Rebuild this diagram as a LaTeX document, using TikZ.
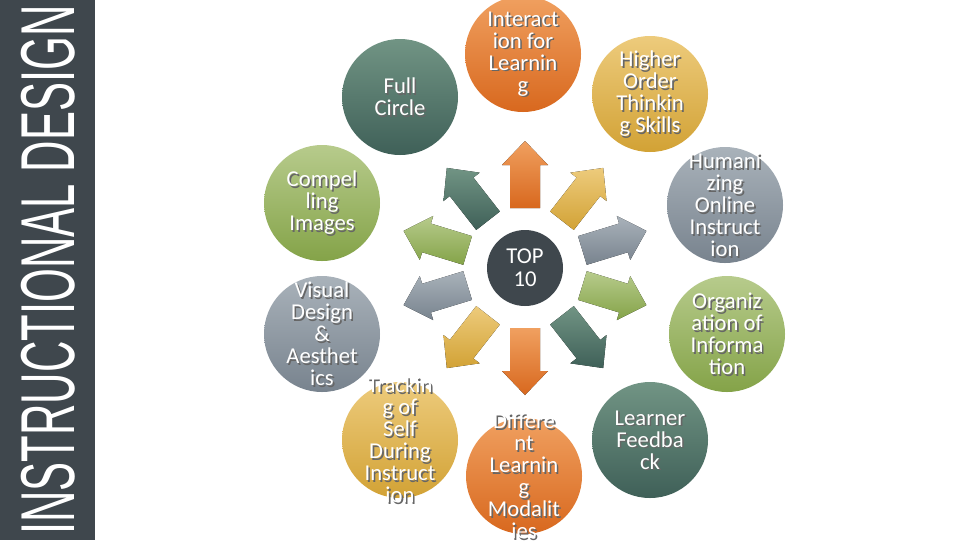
\documentclass[tikz,border=0pt]{standalone}
\usepackage{fontspec}
\setmainfont{Carlito}
\newfontfamily\barfont{Liberation Sans}
\definecolor{barc}{HTML}{3F474D}
\definecolor{ortop}{HTML}{F0A060}\definecolor{orbot}{HTML}{D8681E}
\definecolor{gotop}{HTML}{EDCB7C}\definecolor{gobot}{HTML}{D2A235}
\definecolor{grtop}{HTML}{A9B2BA}\definecolor{grbot}{HTML}{78838E}
\definecolor{gntop}{HTML}{B7CB8C}\definecolor{gnbot}{HTML}{84A348}
\definecolor{dgtop}{HTML}{719484}\definecolor{dgbot}{HTML}{3F6058}
\tikzset{
 orange/.style={top color=ortop,bottom color=orbot},
 golden/.style={top color=gotop,bottom color=gobot},
 grayb/.style={top color=grtop,bottom color=grbot},
 greenb/.style={top color=gntop,bottom color=gnbot},
 dgreen/.style={top color=dgtop,bottom color=dgbot},
 bubble/.style={circle,minimum size=87pt,inner sep=0pt},
 ctxt/.style={align=center,text=white,font=\fontsize{17}{16.5}\selectfont},
 shtxt/.style={align=center,text=black!60,font=\fontsize{17}{16.5}\selectfont}
}
\newcommand{\bub}[5]{%
 \node[bubble,#2] (#1) at (#3) {};
 \node[shtxt] (#1s) at ([shift={(1.2pt,-1.2pt)}]#1.center) {#4};
 \node[ctxt] (#1t) at (#1.center) {#4};}
\newcommand{\arw}[3]{%
 \begin{scope}[shift={(525,268)},rotate=#1]
  \fill[#2] (60,-15) -- (103,-15) -- (103,-23) -- (127,0) -- (103,23) -- (103,15) -- (60,15) -- cycle;
 \end{scope}}
\begin{document}
\begin{tikzpicture}[x=0.75pt,y=-0.75pt]
\useasboundingbox (0,0) rectangle (960,540);
\fill[white] (0,0) rectangle (960,540);
\fill[barc] (0,0) rectangle (95,540);
\node[rotate=90,text=white,inner sep=0pt] (title) at (48,270) {\barfont\resizebox{397pt}{40pt}{INSTRUCTIONAL DESIGN}};
\arw{90}{orange}{}
\arw{52}{golden}{}
\arw{17}{grayb}{}
\arw{-17}{greenb}{}
\arw{-52}{dgreen}{}
\arw{-90}{orange}{}
\arw{-128}{golden}{}
\arw{197}{grayb}{}
\arw{163}{greenb}{}
\arw{128}{dgreen}{}
\node[circle,fill=barc,minimum size=57pt,inner sep=0pt,text=white,align=center,font=\fontsize{17}{17}\selectfont] (top) at (525,268) {TOP\\10};
\bub{full}{dgreen}{400,97}{Full\\Circle}{}
\bub{inter}{orange}{523,54}{Interact\\ion for\\Learnin\\g}{}
\bub{higher}{golden}{650,94}{Higher\\Order\\Thinkin\\g Skills}{}
\bub{human}{grayb}{725,205}{Humani\\zing\\Online\\Instruct\\ion}{}
\bub{organ}{greenb}{727,334}{Organiz\\ation of\\Informa\\tion}{}
\bub{learn}{dgreen}{650,440}{Learner\\Feedba\\ck}{}
\bub{diff}{orange}{524,476}{Differe\\nt\\Learnin\\g\\Modalit\\ies}{}
\bub{track}{golden}{400,440}{Trackin\\g of\\Self\\During\\Instruct\\ion}{}
\bub{visual}{grayb}{322,334}{Visual\\Design\\\&\\Aesthet\\ics}{}
\bub{compel}{greenb}{322,203}{Compel\\ling\\Images}{}
\end{tikzpicture}
\end{document}
